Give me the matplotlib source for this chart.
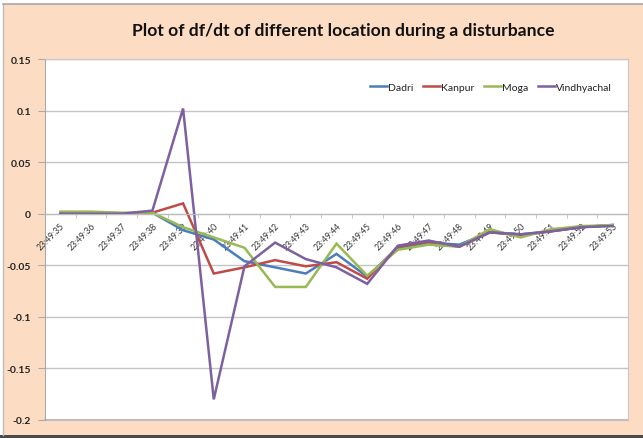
import matplotlib
matplotlib.use("Agg")
import matplotlib.pyplot as plt
from matplotlib.patches import Rectangle
from matplotlib.ticker import FixedLocator

# data
times = ["23:49:35", "23:49:36", "23:49:37", "23:49:38", "23:49:39", "23:49:40",
         "23:49:41", "23:49:42", "23:49:43", "23:49:44", "23:49:45", "23:49:46",
         "23:49:47", "23:49:48", "23:49:49", "23:49:50", "23:49:51", "23:49:52",
         "23:49:53"]
dadri = [0.0, 0.0, 0.0, 0.001, -0.016, -0.025, -0.046, -0.052, -0.058, -0.039,
         -0.061, -0.033, -0.028, -0.030, -0.018, -0.020, -0.017, -0.013, -0.011]
kanpur = [0.0, 0.0, 0.0, 0.001, 0.010, -0.058, -0.052, -0.045, -0.051, -0.047,
          -0.063, -0.032, -0.027, -0.032, -0.018, -0.021, -0.017, -0.013, -0.011]
moga = [0.002, 0.002, 0.001, 0.001, -0.013, -0.023, -0.033, -0.071, -0.071, -0.029,
        -0.060, -0.035, -0.030, -0.032, -0.015, -0.023, -0.015, -0.012, -0.011]
vindhyachal = [0.0, 0.0, 0.0, 0.003, 0.102, -0.180, -0.051, -0.028, -0.044, -0.052,
               -0.068, -0.031, -0.026, -0.032, -0.018, -0.020, -0.017, -0.013, -0.012]

series = [("Dadri", dadri, "#4A7EBB"),
          ("Kanpur", kanpur, "#BE4B48"),
          ("Moga", moga, "#98B954"),
          ("Vindhyachal", vindhyachal, "#7D60A0")]

yticks = [-0.2, -0.15, -0.1, -0.05, 0, 0.05, 0.1, 0.15]
ytick_labels = ["-0.2", "-0.15", "-0.1", "-0.05", "0", "0.05", "0.1", "0.15"]

plt.rcParams['font.family'] = ['Lato', 'DejaVu Sans']

W, H = 643, 439
fig = plt.figure(figsize=(W / 100, H / 100), dpi=100)
fig.patch.set_facecolor("white")

# chart area background and frame
peach = "#FDDCC4"
fig.patches.append(Rectangle((3 / W, 3 / H), 1, 1 - 8 / H, transform=fig.transFigure,
                             facecolor=peach, edgecolor="none", zorder=-10))
fig.patches.append(Rectangle((0, 0), 1, 3 / H, transform=fig.transFigure,
                             facecolor="#4A4A4A", edgecolor="none", zorder=-9))
fig.lines.append(plt.Line2D([2.5 / W, 2.5 / W], [3 / H, 1 - 5 / H], transform=fig.transFigure,
                            color="#BDBDBD", lw=1))
fig.lines.append(plt.Line2D([2.5 / W, 1], [1 - 5 / H, 1 - 5 / H], transform=fig.transFigure,
                            color="#A8A8A8", lw=1.2))

ax = fig.add_axes([45 / W, 1 - 421 / H, (628 - 45) / W, (421 - 60) / H])
ax.set_facecolor("white")

x = list(range(len(times)))
for name, vals, col in series:
    ax.plot(x, vals, color=col, lw=1.8, label=name, solid_joinstyle="miter")

ax.set_xlim(-0.5, len(times) - 0.5)
ax.set_ylim(-0.2, 0.15)
ax.set_yticks(yticks)
ax.set_yticklabels(ytick_labels, fontsize=7.5, fontweight="bold", color="#222222")
ax.yaxis.grid(True, color="#C4C4C4", lw=1)
ax.set_axisbelow(True)

# x axis crosses at zero, ticks between categories
ax.spines["bottom"].set_position(("data", 0))
ax.spines["bottom"].set_color("#BBBBBB")
ax.spines["left"].set_color("#AAAAAA")
ax.spines["top"].set_color("#C8C8C8")
ax.spines["right"].set_color("#C8C8C8")
ax.set_xticks(x)
ax.set_xticklabels(times, rotation=45, ha="right", va="top", rotation_mode="anchor",
                   fontsize=6.2, color="#333333")
ax.xaxis.set_minor_locator(FixedLocator([i + 0.5 for i in range(-1, len(times))]))
ax.tick_params(axis="x", which="major", length=0, pad=5)
ax.tick_params(axis="x", which="minor", length=3, color="#BBBBBB", direction="out")
ax.tick_params(axis="y", length=5, color="#AAAAAA", pad=5)

# bottom edge of plot area
ax.axhline(-0.2, color="#BDBDBD", lw=1.5, clip_on=False)

fig.text(343 / W, 1 - 31 / H, "Plot of df/dt of different location during a disturbance",
         ha="center", va="center", fontsize=12.6, fontweight="bold", color="#111111")

ax.legend(loc="center", bbox_to_anchor=(491 / W, 1 - 88 / H), bbox_transform=fig.transFigure,
          ncol=4, frameon=False, fontsize=7.5, handlelength=1.6, handletextpad=0.15,
          columnspacing=0.9, labelcolor="#222222")

fig.savefig("out.png", dpi=100, facecolor=fig.get_facecolor())
